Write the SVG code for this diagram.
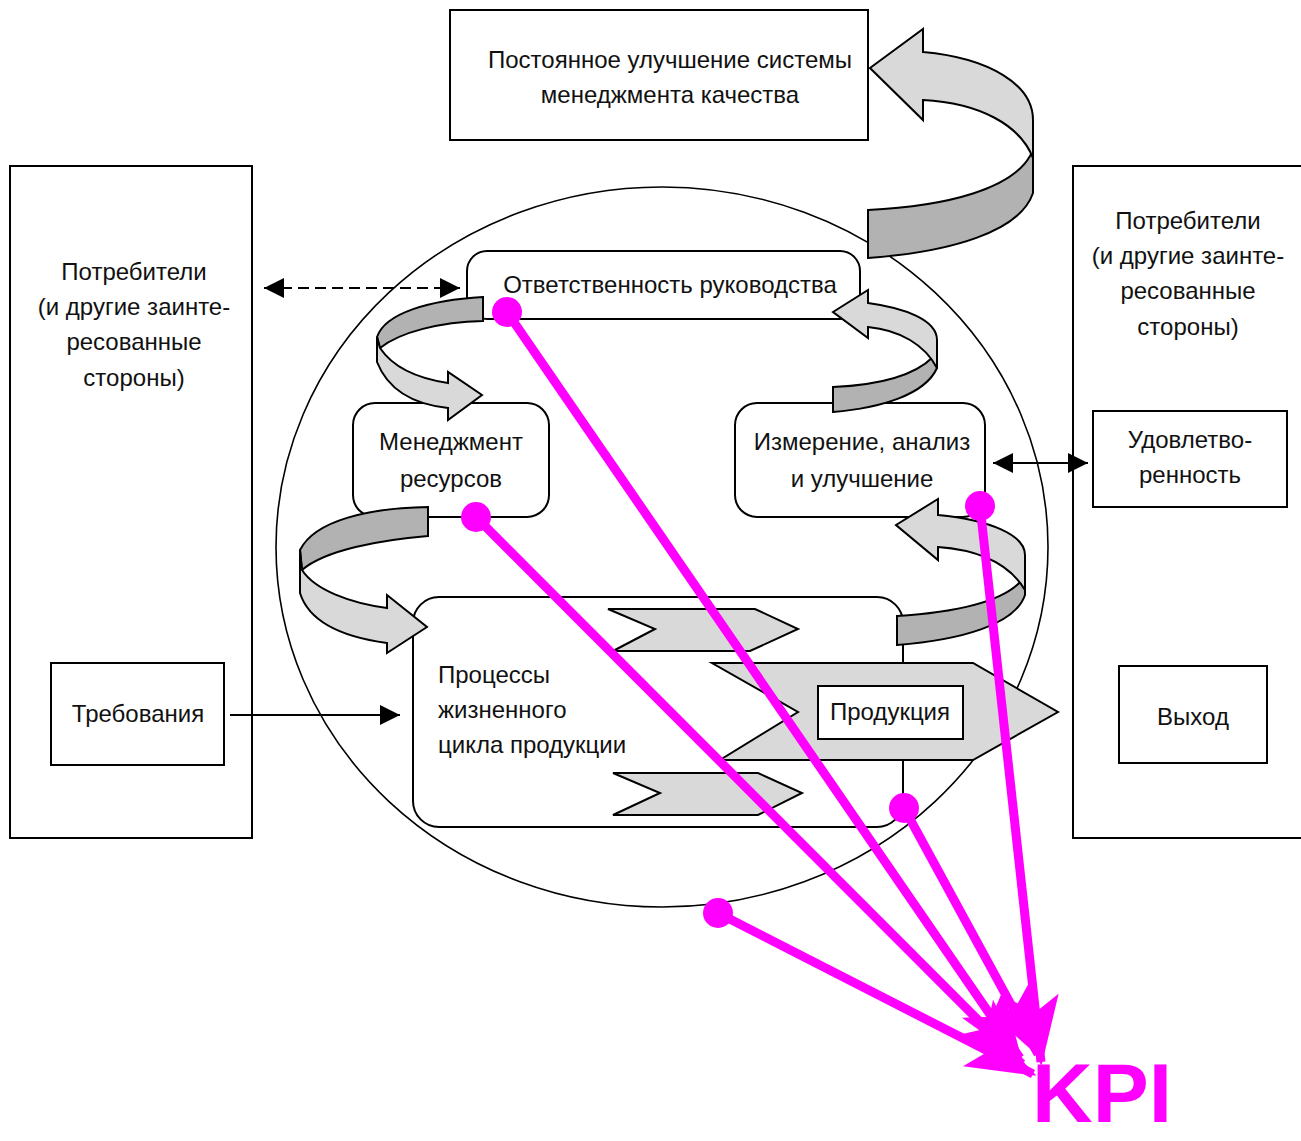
<svg xmlns="http://www.w3.org/2000/svg" width="1301" height="1141" viewBox="0 0 1301 1141">
<defs>
<style>
.box{fill:#fff;stroke:#000;stroke-width:2}
.t{font-family:"Liberation Sans",Arial,sans-serif;font-size:24px;fill:#111}
.c{text-anchor:middle}
.light{fill:#d9d9d9;stroke:#000;stroke-width:2;stroke-linejoin:miter}
.dark{fill:#b2b2b2;stroke:#000;stroke-width:2}
.ln{stroke:#000;stroke-width:2;fill:none}
.kpi{stroke:#ff00ff;stroke-width:9;fill:none}
.dot{fill:#ff00ff}
</style>
<marker id="ah" viewBox="0 0 20 20" refX="20" refY="10" markerWidth="20" markerHeight="20" markerUnits="userSpaceOnUse" orient="auto-start-reverse">
<path d="M0,0 L20,10 L0,20 Z" fill="#000"/>
</marker>
<marker id="km" viewBox="0 0 70 50" refX="66" refY="25" markerWidth="70" markerHeight="50" markerUnits="userSpaceOnUse" orient="auto">
<path d="M0,0 L70,25 L0,50 L16,25 Z" fill="#ff00ff"/>
</marker>
</defs>
<rect width="1301" height="1141" fill="#fff"/>

<ellipse id="circle" cx="662" cy="547" rx="386" ry="360" fill="none" stroke="#000" stroke-width="1.6"/>

<g id="improve">
<rect class="box" x="450" y="10" width="418" height="130"/>
<text class="t c" x="670" y="68">Постоянное улучшение системы</text>
<text class="t c" x="670" y="103">менеджмента качества</text>
</g>

<g id="consumers-left">
<rect class="box" x="10" y="166" width="242" height="672"/>
<text class="t c" x="134" y="280">Потребители</text>
<text class="t c" x="134" y="315">(и другие заинте-</text>
<text class="t c" x="134" y="350">ресованные</text>
<text class="t c" x="134" y="386">стороны)</text>
</g>
<g id="requirements">
<rect class="box" x="51" y="663" width="173" height="102"/>
<text class="t c" x="138" y="722">Требования</text>
</g>

<g id="consumers-right">
<rect class="box" x="1073" y="166" width="235" height="672"/>
<text class="t c" x="1188" y="229">Потребители</text>
<text class="t c" x="1188" y="264">(и другие заинте-</text>
<text class="t c" x="1188" y="299">ресованные</text>
<text class="t c" x="1188" y="335">стороны)</text>
</g>
<g id="satisfaction">
<rect class="box" x="1093" y="411" width="194" height="96"/>
<text class="t c" x="1190" y="448">Удовлетво-</text>
<text class="t c" x="1190" y="483">ренность</text>
</g>
<g id="output">
<rect class="box" x="1119" y="666" width="148" height="97"/>
<text class="t c" x="1193" y="725">Выход</text>
</g>

<g id="responsibility">
<rect class="box" x="467" y="251" width="393" height="68" rx="20"/>
<text class="t c" x="670" y="293">Ответственность руководства</text>
</g>
<g id="resources">
<rect class="box" x="353" y="403" width="196" height="114" rx="22"/>
<text class="t c" x="451" y="450">Менеджмент</text>
<text class="t c" x="451" y="487">ресурсов</text>
</g>
<g id="measurement">
<rect class="box" x="735" y="403" width="250" height="114" rx="22"/>
<text class="t c" x="862" y="450">Измерение, анализ</text>
<text class="t c" x="862" y="487">и улучшение</text>
</g>
<g id="processes">
<rect class="box" x="413" y="597" width="490" height="230" rx="26"/>
<text class="t" x="438" y="683">Процессы</text>
<text class="t" x="438" y="718">жизненного</text>
<text class="t" x="438" y="753">цикла продукции</text>
<polygon class="light" points="608,609 755,609 798,629 750,651 613,651 655,629"/>
<polygon class="light" points="613,773 758,773 802,793 758,815 613,815 660,793"/>
<polygon class="light" points="712,663 973,663 1058,712 973,760 720,760 798,712"/>
</g>
<g id="product">
<rect class="box" x="818" y="686" width="145" height="53"/>
<text class="t c" x="890" y="720">Продукция</text>
</g>

<g id="cycle-arrows">
<path class="dark" d="M1033,150 L1033,193 C1020,232 950,252 868,258 L868,210 C950,206 1012,188 1030,156 Z"/>
<path class="light" d="M870,68 L923,29 L923,52 C990,58 1033,85 1033,120 L1033,158 C1020,125 980,103 923,100 L923,120 Z"/>
<path class="dark" d="M483,297 L483,321 C440,322 400,332 380,348 L377,337 C385,313 430,300 483,297 Z"/>
<path class="light" d="M377,337 L377,362 C390,395 420,405 448,408 L448,420 L482,395 L448,372 L448,383 C415,378 392,366 380,348 Z"/>
<path class="dark" d="M428,507 L428,536 C380,540 325,550 302,570 L300,550 C315,520 370,508 428,507 Z"/>
<path class="light" d="M300,550 L300,593 C310,625 350,638 387,643 L387,653 L427,627 L387,595 L387,608 C350,603 315,590 302,570 Z"/>
<path class="dark" d="M937,348 L937,368 C925,395 880,408 833,412 L833,387 C880,385 915,375 933,357 Z"/>
<path class="light" d="M833,312 L868,290 L868,303 C905,308 937,320 937,340 L937,368 C925,345 900,330 868,327 L868,338 Z"/>
<path class="dark" d="M1025,572 L1025,595 C1015,625 960,640 897,645 L897,616 C960,612 1005,600 1022,580 Z"/>
<path class="light" d="M896,525 L938,499 L938,515 C990,520 1025,535 1025,555 L1025,590 C1010,565 980,550 938,547 L938,560 Z"/>
</g>

<g id="connectors">
<line class="ln" x1="264" y1="288" x2="460" y2="288" stroke-dasharray="11,6" marker-start="url(#ah)" marker-end="url(#ah)"/>
<line class="ln" x1="230" y1="715" x2="400" y2="715" marker-end="url(#ah)"/>
<line class="ln" x1="993" y1="463" x2="1088" y2="463" marker-start="url(#ah)" marker-end="url(#ah)"/>
<line class="ln" x1="903" y1="648" x2="903" y2="663"/>
<line class="ln" x1="903" y1="760" x2="903" y2="805"/>
</g>

<g id="kpi">
<line class="kpi" x1="507" y1="312" x2="1020" y2="1058" marker-end="url(#km)"/>
<line class="kpi" x1="476" y1="517" x2="1022" y2="1064" marker-end="url(#km)"/>
<line class="kpi" x1="980" y1="506" x2="1041" y2="1062" marker-end="url(#km)"/>
<line class="kpi" x1="904" y1="808" x2="1038" y2="1054" marker-end="url(#km)"/>
<line class="kpi" x1="718" y1="913" x2="1033" y2="1074" marker-end="url(#km)"/>
<circle class="dot" cx="507" cy="312" r="15"/>
<circle class="dot" cx="476" cy="517" r="15"/>
<circle class="dot" cx="980" cy="506" r="15"/>
<circle class="dot" cx="904" cy="808" r="15"/>
<circle class="dot" cx="718" cy="913" r="15"/>
<text x="1032" y="1122" font-family="'Liberation Sans',Arial,sans-serif" font-size="84" font-weight="bold" fill="#ff00ff">KPI</text>
</g>
</svg>
